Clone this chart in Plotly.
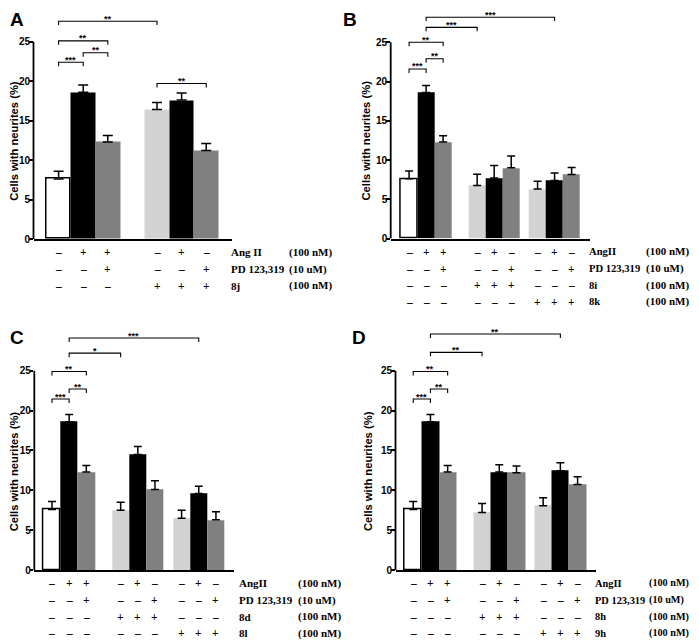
import plotly.graph_objects as go

W, H = 699, 642
OFF = 8  # page body margin in the browser

# ---------------- data ----------------
a_values = [7.6, 18.6, 12.3, 16.4, 17.6, 11.2]
a_errors = [1.0, 0.9, 0.8, 0.9, 0.9, 0.9]
b_values = [7.6, 18.6, 12.3, 6.75, 7.7, 9.0, 6.3, 7.4, 8.15]
b_errors = [1.0, 0.9, 0.8, 1.45, 1.6, 1.5, 1.0, 0.95, 0.9]
c_values = [7.6, 18.6, 12.3, 7.5, 14.5, 10.1, 6.5, 9.6, 6.3]
c_errors = [1.0, 0.9, 0.8, 1.0, 1.0, 1.1, 1.0, 0.9, 1.0]
d_values = [7.6, 18.6, 12.3, 7.2, 12.3, 12.2, 8.07, 12.46, 10.74]
d_errors = [1.0, 0.9, 0.8, 1.15, 0.9, 0.85, 1.0, 1.0, 0.95]

a_rows = [("Ang II", "(100 nM)", "-++-+-"),
          ("PD 123,319", "(10 uM)", "--+--+"),
          ("8j", "(100 nM)", "---+++")]
b_rows = [("AngII", "(100 nM)", "-++-+--+-"),
          ("PD 123,319", "(10 uM)", "--+--+--+"),
          ("8i", "(100 nM)", "---+++---"),
          ("8k", "(100 nM)", "------+++")]
c_rows = [("AngII", "(100 nM)", "-++-+--+-"),
          ("PD 123,319", "(10 uM)", "--+--+--+"),
          ("8d", "(100 nM)", "---+++---"),
          ("8l", "(100 nM)", "------+++")]
d_rows = [("AngII", "(100 nM)", "-++-+--+-"),
          ("PD 123,319", "(10 uM)", "--+--+--+"),
          ("8h", "(100 nM)", "---+++---"),
          ("9h", "(100 nM)", "------+++")]

# significance brackets: (bar i, bar j, label, height)
a_sig = [(0, 1, "***", 22.4), (1, 2, "**", 23.6), (0, 2, "**", 25.1),
         (0, 3, "**", 27.6), (3, 5, "**", 19.7)]
b_sig = [(0, 1, "***", 21.6), (1, 2, "**", 22.9), (0, 2, "**", 25.0),
         (1, 3, "***", 26.9), (1, 7, "***", 28.2)]
c_sig = [(0, 1, "***", 21.45), (1, 2, "**", 22.7), (0, 2, "**", 24.9),
         (1, 3, "*", 27.2), (1, 7, "***", 29.1)]
d_sig = [(0, 1, "***", 21.45), (1, 2, "**", 22.7), (0, 2, "**", 24.9),
         (1, 3, "**", 27.3), (1, 7, "**", 29.6)]

y_ticks = [0, 5, 10, 15, 20, 25]
y_title = "Cells with neurites (%)"

# ---------------- layout helpers ----------------
FW, FH = W - OFF, H - OFF


def xp(px):
    return (px - OFF) / FW


def yp(py):
    return 1 - (py - OFF) / FH


WHITE, BLACK, GRAY, LIGHT = "#ffffff", "#000000", "#808080", "#d3d3d3"
SANS = "Liberation Sans, Arial, sans-serif"
SERIF = "Liberation Serif, Times New Roman, serif"

panels = [
    dict(letter="A", vals=a_values, errs=a_errors, rows=a_rows, sig=a_sig,
         groups=3 * [0] + 3 * [1], gaps=[0, 1.0],
         px0=33.5, px1=232.3, zero=239.0, p25=41.7, xr=(-1.02, 7.06), ymax=29.2,
         cap=5, lab_x=229.3, unit_x=287.3, lab_size=11, unit_size=11,
         letter_xy=(8.5, 8.2), title_xy=(13.8, 141)),
    dict(letter="B", vals=b_values, errs=b_errors, rows=b_rows, sig=b_sig,
         groups=3 * [0] + 3 * [1] + 3 * [2], gaps=[0, 1.0, 0.55],
         px0=390.7, px1=590.0, zero=238.5, p25=42.3, xr=(-1.08, 10.63), ymax=29.35,
         cap=4, lab_x=587.0, unit_x=643.5, lab_size=10.6, unit_size=11,
         letter_xy=(342, 8.2), title_xy=(365.5, 141)),
    dict(letter="C", vals=c_values, errs=c_errors, rows=c_rows, sig=c_sig,
         groups=3 * [0] + 3 * [1] + 3 * [2], gaps=[0, 1.0, 0.55],
         px0=34.3, px1=234.3, zero=570.0, p25=370.7, xr=(-1.03, 10.62), ymax=31.2,
         cap=4, lab_x=237.0, unit_x=295.5, lab_size=11, unit_size=11,
         letter_xy=(8.5, 326), title_xy=(14.3, 471)),
    dict(letter="D", vals=d_values, errs=d_errors, rows=d_rows, sig=d_sig,
         groups=3 * [0] + 3 * [1] + 3 * [2], gaps=[0, 1.0, 0.55],
         px0=395.5, px1=596.0, zero=570.0, p25=370.7, xr=(-1.03, 10.62), ymax=31.2,
         cap=4, lab_x=592.5, unit_x=646.5, lab_size=10.4, unit_size=10.2,
         letter_xy=(351, 326), title_xy=(368, 471)),
]

fig = go.Figure()
shapes, annots = [], []
layout = {}

for k, p in enumerate(panels, start=1):
    xa = "x" if k == 1 else f"x{k}"
    ya = "y" if k == 1 else f"y{k}"
    # bar positions from group structure
    pos, cur, prev_g = [], 0.0, None
    for g in p["groups"]:
        if prev_g is None:
            cur = 0.0
        elif g != prev_g:
            cur += 1 + p["gaps"][g]
        else:
            cur += 1
        pos.append(cur)
        prev_g = g
    colors = [([WHITE, BLACK, GRAY] if g == 0 else [LIGHT, BLACK, GRAY])[i % 3]
              for i, g in enumerate(p["groups"])]
    lw = [1.5 if c == WHITE else 0 for c in colors]
    n = len(p["vals"])
    fig.add_trace(go.Bar(
        x=pos, y=p["vals"], width=1, xaxis=xa, yaxis=ya, showlegend=False,
        marker=dict(color=colors, line=dict(color=BLACK, width=lw)),
        error_y=dict(type="data", array=p["errs"], arrayminus=[0] * n,
                     symmetric=False, color=BLACK, thickness=1.5, width=p["cap"]),
    ))
    scale = (p["zero"] - p["p25"]) / 25.0
    top_px = p["zero"] - p["ymax"] * scale
    layout["xaxis" if k == 1 else f"xaxis{k}"] = dict(
        domain=[xp(p["px0"]), xp(p["px1"])], range=list(p["xr"]), anchor=ya,
        showline=True, linecolor=BLACK, linewidth=1.8, showgrid=False,
        zeroline=False, showticklabels=False, ticks="", fixedrange=True)
    layout["yaxis" if k == 1 else f"yaxis{k}"] = dict(
        domain=[yp(p["zero"]), min(1.0, yp(top_px))], range=[0, p["ymax"]], anchor=xa,
        showline=False, showgrid=False, zeroline=False, tickvals=y_ticks,
        ticks="outside", ticklen=3.5, tickwidth=1.5, tickcolor=BLACK,
        ticklabelstandoff=-3,
        tickfont=dict(family=SANS, size=10, color=BLACK, weight="bold"))
    # y-axis line from 0 to 25 only
    shapes.append(dict(type="line", xref=f"{xa} domain", yref=ya, x0=0, x1=0,
                       y0=0, y1=25, line=dict(color=BLACK, width=1.8)))
    # significance brackets
    d = 0.5
    for i, j, lab, h in p["sig"]:
        x0, x1 = pos[i], pos[j]
        shapes.append(dict(type="path", xref=xa, yref=ya,
                           path=f"M{x0},{h - d} L{x0},{h} L{x1},{h} L{x1},{h - d}",
                           line=dict(color=BLACK, width=1.1)))
        annots.append(dict(x=(x0 + x1) / 2, y=h, xref=xa, yref=ya, text=lab,
                           showarrow=False, yanchor="middle", yshift=2.5,
                           font=dict(family=SANS, size=9, color=BLACK, weight="bold")))
    # treatment rows
    for r, (name, unit, signs) in enumerate(p["rows"]):
        ry = p["zero"] + 13.3 + r * 16.7
        for s, xpos in zip(signs, pos):
            annots.append(dict(x=xpos, y=yp(ry), xref=xa, yref="paper",
                               text="+" if s == "+" else "–", showarrow=False,
                               xanchor="center", yanchor="middle",
                               font=dict(family=SERIF, size=11.5, color=BLACK, weight="bold")))
        annots.append(dict(x=xp(p["lab_x"]), y=yp(ry), xref="paper", yref="paper",
                           text=name, showarrow=False, xanchor="left", yanchor="middle",
                           font=dict(family=SERIF, size=p["lab_size"], color=BLACK,
                                     weight="bold")))
        annots.append(dict(x=xp(p["unit_x"]), y=yp(ry), xref="paper", yref="paper",
                           text=unit, showarrow=False, xanchor="left", yanchor="middle",
                           font=dict(family=SERIF, size=p["unit_size"], color=BLACK,
                                     weight="bold")))
    # y title
    tx, ty = p["title_xy"]
    annots.append(dict(x=xp(tx), y=yp(ty), xref="paper", yref="paper", text=y_title,
                       textangle=-90, showarrow=False, xanchor="center", yanchor="middle",
                       font=dict(family=SANS, size=11.2, color=BLACK, weight="bold")))
    # panel letter
    lx, ly = p["letter_xy"]
    annots.append(dict(x=xp(lx), y=yp(ly), xref="paper", yref="paper", text=p["letter"],
                       showarrow=False, xanchor="left", yanchor="top", borderpad=0,
                       font=dict(family=SANS, size=19, color=BLACK, weight="bold")))

fig.update_layout(
    width=FW, height=FH, template="none",
    margin=dict(l=0, r=0, t=0, b=0),
    paper_bgcolor="white", plot_bgcolor="rgba(0,0,0,0)",
    shapes=shapes, annotations=annots, showlegend=False, bargap=0,
    **layout,
)

fig.write_html("out.html")
